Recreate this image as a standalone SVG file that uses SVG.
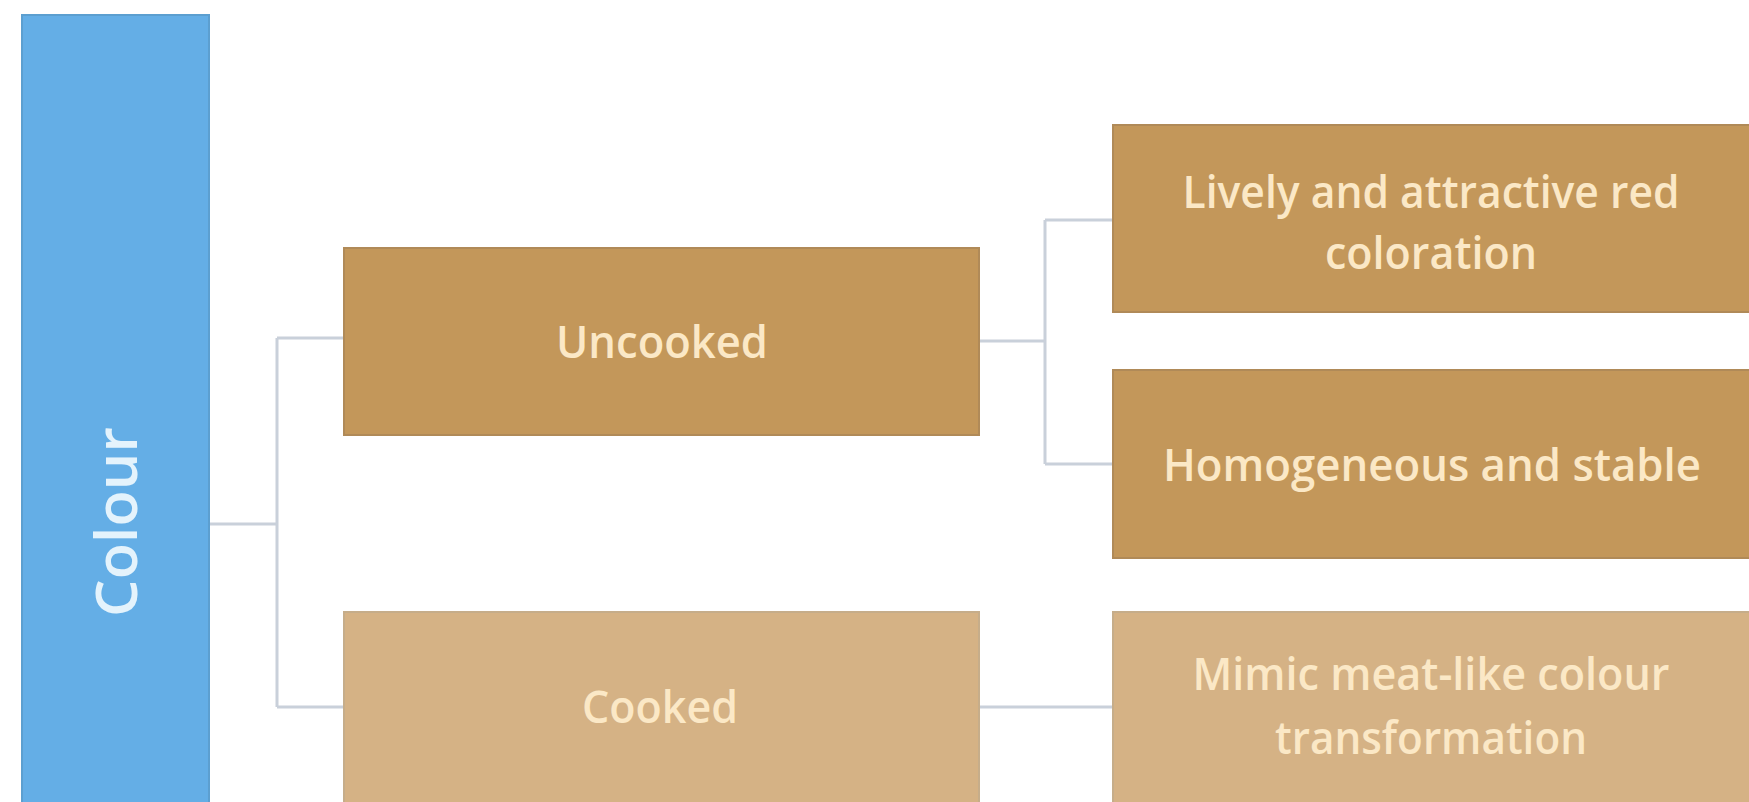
<svg xmlns="http://www.w3.org/2000/svg" width="1749" height="802" viewBox="0 0 1749 802">
  <style>
    .dark { fill: #c3975a; stroke: #b08a58; stroke-width: 2; }
    .light { fill: #d5b285; stroke: #c6ad8a; stroke-width: 2; }
    .root { fill: #64aee6; stroke: #5c9fd0; stroke-width: 2; }
    .lbl { font-family: "Open Sans", "Liberation Sans", sans-serif; font-size: 46px; font-weight: 600; fill: #fbe8c6; text-anchor: middle; }
    .rootlbl { font-family: "Open Sans", "Liberation Sans", sans-serif; font-size: 58px; font-weight: 600; fill: #e4f3fc; text-anchor: middle; }
    .conn { fill: none; stroke: #c9d0da; stroke-width: 3; }
  </style>
  <rect width="1749" height="802" fill="#ffffff"/>
  <g id="connectors">
    <path class="conn" d="M209 524 H277 M277 338 V707 M277 338 H344 M277 707 H344"/>
    <path class="conn" d="M979 341 H1045 M1045 220 V464 M1045 220 H1113 M1045 464 H1113"/>
    <path class="conn" d="M979 707 H1113"/>
  </g>
  <g id="colour">
    <rect class="root" x="22" y="15" width="187" height="800"/>
    <text class="rootlbl" transform="translate(117,522) rotate(-90)" x="0" y="20" textLength="190" lengthAdjust="spacingAndGlyphs">Colour</text>
  </g>
  <g id="uncooked">
    <rect class="dark" x="344" y="248" width="635" height="187"/>
    <text class="lbl" x="662" y="358" textLength="212" lengthAdjust="spacingAndGlyphs">Uncooked</text>
  </g>
  <g id="cooked">
    <rect class="light" x="344" y="612" width="635" height="200"/>
    <text class="lbl" x="660" y="723" textLength="156" lengthAdjust="spacingAndGlyphs">Cooked</text>
  </g>
  <g id="lively">
    <rect class="dark" x="1113" y="125" width="640" height="187"/>
    <text class="lbl" x="1431" y="208" textLength="497" lengthAdjust="spacingAndGlyphs">Lively and attractive red</text>
    <text class="lbl" x="1431" y="269" textLength="212" lengthAdjust="spacingAndGlyphs">coloration</text>
  </g>
  <g id="homogeneous">
    <rect class="dark" x="1113" y="370" width="640" height="188"/>
    <text class="lbl" x="1432" y="481" textLength="538" lengthAdjust="spacingAndGlyphs">Homogeneous and stable</text>
  </g>
  <g id="mimic">
    <rect class="light" x="1113" y="612" width="640" height="200"/>
    <text class="lbl" x="1431" y="690" textLength="477" lengthAdjust="spacingAndGlyphs">Mimic meat-like colour</text>
    <text class="lbl" x="1431" y="754" textLength="312" lengthAdjust="spacingAndGlyphs">transformation</text>
  </g>
</svg>
